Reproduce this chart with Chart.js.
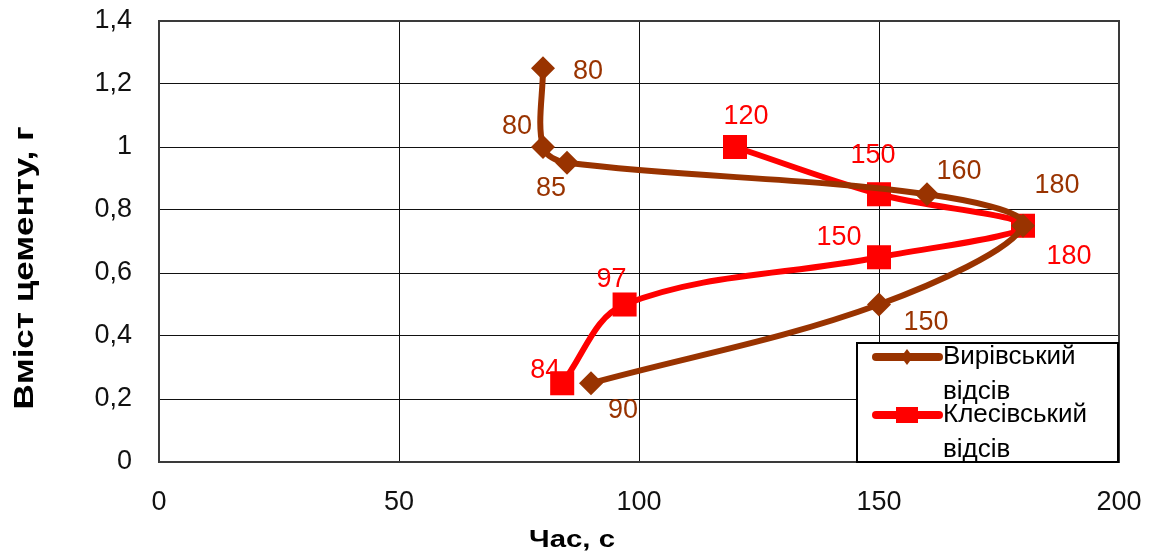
<!DOCTYPE html>
<html>
<head>
<meta charset="utf-8">
<script src="https://cdn.jsdelivr.net/npm/chart.js@4/dist/chart.umd.min.js"></script>
<style>
  html, body { margin: 0; padding: 0; background: #fff; }
  #wrap { width: 1153px; height: 557px; position: relative; }
</style>
</head>
<body>
<div id="wrap"><canvas id="chart"></canvas></div>
<script>
// Setting time (s) against cement content (g) for two screenings
const seriesNames = ['Вирівський відсів', 'Клесівський відсів'];
const vyrivskyiTime = [80, 80, 85, 160, 180, 150, 90];
const vyrivskyiCement = [1.25, 1.0, 0.95, 0.85, 0.75, 0.5, 0.25];
const klesivskyiTime = [120, 150, 180, 150, 97, 84];
const klesivskyiCement = [1.0, 0.85, 0.75, 0.65, 0.5, 0.25];
const xTickLabels = ['0', '50', '100', '150', '200'];
const yTickLabels = ['0', '0,2', '0,4', '0,6', '0,8', '1', '1,2', '1,4'];
const xTitle = 'Час, с';
const yTitle = 'Вміст цементу, г';

// where each value label sits relative to its marker (px)
const vyrivskyiLabelOffsets = [[45, 3], [-26, -20], [-16, 26], [32, -23], [34, -40], [47, 18], [32, 27]];
const klesivskyiLabelOffsets = [[11, -30], [-6, -39], [46, 31], [-40, -20], [-13, -25], [-17, -13]];

const BROWN = '#993300';
const RED = '#ff0000';
const FONT = '"Liberation Sans", Arial, sans-serif';

const toPoints = (xs, ys) => xs.map((x, i) => ({ x: x, y: ys[i] }));

// draws text centred at (x, y), stretched along its run to the given length
function drawStretched(ctx, text, x, y, length, angle) {
  const w = ctx.measureText(text).width;
  ctx.save();
  ctx.translate(x, y);
  ctx.rotate(angle);
  ctx.scale(length / w, 1);
  ctx.fillText(text, 0, 0);
  ctx.restore();
}

// axis boxes with fixed size and no extra label overhang
function fixedBox(prop, size) {
  return function (scale) {
    scale[prop] = size;
    scale.paddingTop = 0;
    scale.paddingBottom = 0;
    scale.paddingLeft = 0;
    scale.paddingRight = 0;
  };
}

const valueLabels = {
  id: 'valueLabels',
  afterDatasetsDraw(chart) {
    const ctx = chart.ctx;
    ctx.save();
    ctx.font = '27px ' + FONT;
    ctx.textAlign = 'center';
    ctx.textBaseline = 'middle';
    chart.data.datasets.forEach((ds, di) => {
      const meta = chart.getDatasetMeta(di);
      const offs = ds.labelOffsets;
      ctx.fillStyle = ds.labelColor;
      meta.data.forEach((el, i) => {
        ctx.fillText(String(ds.data[i].x), el.x + offs[i][0], el.y + offs[i][1]);
      });
    });
    ctx.restore();
  }
};

const frameTitlesLegend = {
  id: 'frameTitlesLegend',
  beforeDatasetsDraw(chart) {
    const ctx = chart.ctx;
    const ca = chart.chartArea;
    ctx.save();
    ctx.strokeStyle = '#3a3a3a';
    ctx.lineWidth = 2;
    ctx.strokeRect(ca.left, ca.top, ca.right - ca.left, ca.bottom - ca.top);
    ctx.restore();
  },
  afterDraw(chart) {
    const ctx = chart.ctx;
    const ca = chart.chartArea;
    ctx.save();
    // axis titles
    ctx.fillStyle = '#000';
    ctx.textAlign = 'center';
    ctx.textBaseline = 'middle';
    ctx.font = 'bold 23px ' + FONT;
    drawStretched(ctx, xTitle, 572, 541, 86, 0);
    ctx.font = 'bold 28px ' + FONT;
    drawStretched(ctx, yTitle, 25, 268, 283, -Math.PI / 2);

    // legend box in the lower right corner of the plot
    const bw = 261, bh = 119;
    const bx = ca.right - bw - 1, by = ca.bottom - bh;
    ctx.fillStyle = '#fff';
    ctx.fillRect(bx, by, bw, bh);
    ctx.strokeStyle = '#000';
    ctx.lineWidth = 2;
    ctx.strokeRect(bx, by, bw, bh);

    const rows = [14, 72];
    chart.data.datasets.forEach((ds, di) => {
      const y = by + rows[di];
      ctx.strokeStyle = ds.borderColor;
      ctx.lineWidth = 8;
      ctx.lineCap = 'round';
      ctx.beginPath();
      ctx.moveTo(bx + 19, y);
      ctx.lineTo(bx + 82, y);
      ctx.stroke();
      ctx.fillStyle = ds.borderColor;
      const cx = bx + 50;
      if (ds.pointStyle === 'rectRot') {
        ctx.beginPath();
        ctx.moveTo(cx - 6, y);
        ctx.lineTo(cx, y - 8);
        ctx.lineTo(cx + 6, y);
        ctx.lineTo(cx, y + 8);
        ctx.closePath();
        ctx.fill();
      } else {
        ctx.fillRect(cx - 11, y - 8, 22, 16);
      }
      const words = ds.label.split(' ');
      ctx.fillStyle = '#000';
      ctx.font = '26px ' + FONT;
      ctx.textAlign = 'left';
      ctx.textBaseline = 'middle';
      ctx.fillText(words[0], bx + 86, y);
      ctx.fillText(words.slice(1).join(' '), bx + 86, y + 35);
    });
    ctx.restore();
  }
};

new Chart(document.getElementById('chart'), {
  type: 'scatter',
  data: {
    datasets: [
      {
        label: seriesNames[0],
        data: toPoints(vyrivskyiTime, vyrivskyiCement),
        showLine: true,
        borderColor: BROWN,
        backgroundColor: BROWN,
        borderWidth: 6,
        tension: 0.35,
        pointStyle: 'rectRot',
        pointRadius: 12,
        pointBorderWidth: 0,
        labelColor: BROWN,
        labelOffsets: vyrivskyiLabelOffsets,
        borderCapStyle: 'round',
        borderJoinStyle: 'round'
      },
      {
        label: seriesNames[1],
        data: toPoints(klesivskyiTime, klesivskyiCement),
        showLine: true,
        borderColor: RED,
        backgroundColor: RED,
        borderWidth: 6,
        tension: 0.35,
        pointStyle: 'rect',
        pointRadius: 17,
        pointBorderWidth: 0,
        labelColor: RED,
        labelOffsets: klesivskyiLabelOffsets,
        borderCapStyle: 'round',
        borderJoinStyle: 'round'
      }
    ]
  },
  options: {
    responsive: true,
    maintainAspectRatio: false,
    animation: false,
    events: [],
    layout: { autoPadding: false, padding: { top: 21, right: 34, left: 0, bottom: 0 } },
    plugins: {
      legend: { display: false },
      tooltip: { enabled: false },
      title: { display: false }
    },
    scales: {
      x: {
        type: 'linear',
        min: 0,
        max: 200,
        afterFit: fixedBox('height', 95),
        afterBuildTicks(scale) {
          scale.ticks = xTickLabels.map(t => ({ value: Number(t) }));
        },
        ticks: {
          padding: 24,
          color: '#111',
          font: { family: FONT, size: 27 },
          callback: (v, i) => xTickLabels[i]
        },
        grid: { color: '#111', lineWidth: 1, drawTicks: false },
        border: { display: false }
      },
      y: {
        type: 'linear',
        min: 0,
        max: 1.4,
        afterFit: fixedBox('width', 159),
        afterBuildTicks(scale) {
          scale.ticks = yTickLabels.map(t => ({ value: Number(t.replace(',', '.')) }));
        },
        ticks: {
          padding: 27,
          color: '#111',
          font: { family: FONT, size: 27 },
          callback: (v, i) => yTickLabels[i]
        },
        grid: { color: '#111', lineWidth: 1, drawTicks: false },
        border: { display: false }
      }
    }
  },
  plugins: [valueLabels, frameTitlesLegend]
});
</script>
</body>
</html>
